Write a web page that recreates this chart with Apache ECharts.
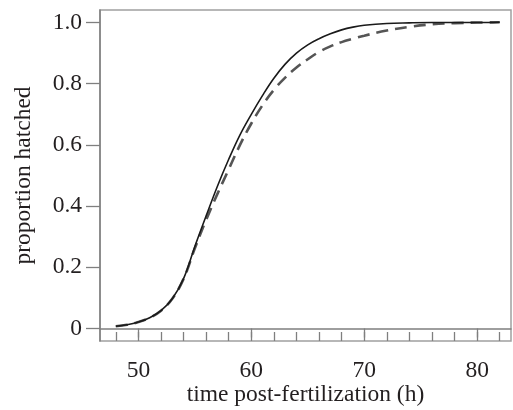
<!DOCTYPE html>
<html>
<head>
<meta charset="utf-8">
<script src="https://cdn.jsdelivr.net/npm/echarts@6/dist/echarts.min.js"></script>
<style>
html,body{margin:0;padding:0;background:#fff;}
#chart{width:513px;height:410px;}
</style>
</head>
<body>
<div id="chart"></div>
<script>
// Data
var hours = [48,49,50,51,52,53,54,55,56,57,58,59,60,61,62,63,64,65,66,67,68,69,70,72,74,76,78,80,82];
var solidValues = [0.007,0.012,0.021,0.035,0.058,0.097,0.163,0.268,0.368,0.465,0.553,0.633,0.70,0.762,0.818,0.864,0.90,0.927,0.947,0.963,0.976,0.985,0.991,0.997,0.999,1.0,1.0,1.0,1.001];
var dashedValues = [0.007,0.012,0.021,0.035,0.058,0.097,0.162,0.262,0.355,0.44,0.52,0.60,0.67,0.73,0.78,0.82,0.853,0.88,0.904,0.922,0.936,0.947,0.957,0.974,0.986,0.994,0.998,1.0,1.001];
var xMajorTicks = [50,60,70,80];
var xMinorTicks = [48,50,52,54,56,58,60,62,64,66,68,70,72,74,76,78,80,82];
var yTicks = [0,0.2,0.4,0.6,0.8,1.0];
var xTitle = 'time post-fertilization (h)';
var yTitle = 'proportion hatched';

function pairs(xs, ys){ return xs.map(function(x,i){ return [x, ys[i]]; }); }

var FONT = 'Liberation Serif';
var AXIS_COLOR = '#7f7f7f';
var TEXT_COLOR = '#231f20';

var chart = echarts.init(document.getElementById('chart'), null, {renderer:'canvas'});
chart.setOption({
  animation: false,
  backgroundColor: '#fff',
  grid: {left: 100, top: 10, right: 2, bottom: 69, show: true, borderColor: '#a0a0a0', borderWidth: 1.5,
         containLabel: false, outerBoundsMode: 'none'},
  xAxis: [{
    type: 'value', min: 46.6, max: 83.0, position: 'bottom',
    splitLine: {show: false},
    axisLine: {show: true, lineStyle: {color: AXIS_COLOR, width: 1.5}},
    axisTick: {show: true, inside: false, length: 9, customValues: xMajorTicks, lineStyle: {color: AXIS_COLOR, width: 1.3}},
    axisLabel: {customValues: xMajorTicks, margin: 18, fontFamily: FONT, fontSize: 23.5, color: TEXT_COLOR},
    name: xTitle, nameLocation: 'middle', nameGap: 42, nameMoveOverlap: false,
    nameTextStyle: {fontFamily: FONT, fontSize: 23.5, color: TEXT_COLOR}
  },{
    type: 'value', min: 46.6, max: 83.0, position: 'bottom', gridIndex: 0,
    splitLine: {show: false},
    axisLine: {show: false},
    axisTick: {show: true, inside: true, length: 9, customValues: xMinorTicks, lineStyle: {color: AXIS_COLOR, width: 1.3}},
    axisLabel: {show: false}
  }],
  yAxis: {
    type: 'value', min: -0.041, max: 1.041,
    splitLine: {show: false},
    axisLine: {show: true, lineStyle: {color: AXIS_COLOR, width: 1.5}},
    axisTick: {show: true, inside: false, length: 14, customValues: yTicks, lineStyle: {color: AXIS_COLOR, width: 1.3}},
    axisLabel: {customValues: yTicks, margin: 18, fontFamily: FONT, fontSize: 23.5, color: TEXT_COLOR,
      formatter: function(v){ return Math.abs(v) < 1e-9 ? '0' : v.toFixed(1); }},
    name: yTitle, nameLocation: 'middle', nameGap: 64, nameRotate: 90, nameMoveOverlap: false,
    nameTextStyle: {fontFamily: FONT, fontSize: 23.5, color: TEXT_COLOR}
  },
  series: [{
    type: 'line', xAxisIndex: 0, data: pairs(hours, dashedValues), smooth: 0.4, showSymbol: false,
    lineStyle: {color: '#555555', width: 2.6, type: [12, 7]}, z: 2
  },{
    type: 'line', xAxisIndex: 0, data: pairs(hours, solidValues), smooth: 0.4, showSymbol: false,
    lineStyle: {color: '#1a1a1a', width: 1.6}, z: 3
  }]
});
</script>
</body>
</html>
